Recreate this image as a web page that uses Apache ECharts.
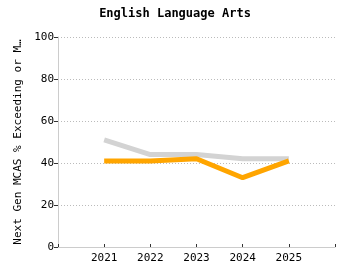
<!DOCTYPE html>
<html>
<head>
<meta charset="utf-8">
<script src="https://cdn.jsdelivr.net/npm/echarts@6/dist/echarts.min.js"></script>
<style>
  html, body { margin: 0; padding: 0; background: #fff; }
  #chart { width: 350px; height: 280px; }
</style>
</head>
<body>
<div id="chart"></div>
<script>
// data
const years = [2021, 2022, 2023, 2024, 2025];
const stateValues = [51, 44, 44, 42, 42];
const schoolValues = [41, 41, 42, 33, 41];
const yTicks = [0, 20, 40, 60, 80, 100];

const font = 'DejaVu Sans Mono';
const chart = echarts.init(document.getElementById('chart'));

const option = {
  animation: false,
  title: {
    text: 'English Language Arts',
    left: 'center',
    top: 3,
    textStyle: { fontFamily: font, fontSize: 12, fontWeight: 'bold', color: '#000' }
  },
  grid: { left: 58, right: 15, top: 37, bottom: 33 },
  xAxis: {
    type: 'value',
    min: 2020,
    max: 2026,
    interval: 1,
    axisLine: { lineStyle: { color: '#ccc' } },
    axisTick: { inside: true, length: 3, lineStyle: { color: '#333' } },
    splitLine: { show: false },
    axisLabel: {
      fontFamily: font, fontSize: 11, color: '#000', margin: 6,
      formatter: v => years.includes(v) ? String(v) : ''
    }
  },
  yAxis: {
    type: 'value',
    min: yTicks[0],
    max: yTicks[yTicks.length - 1],
    interval: 20,
    name: 'Next Gen MCAS % Exceeding or M\u2026',
    nameLocation: 'middle',
    nameGap: 34,
    nameTextStyle: { fontFamily: font, fontSize: 11, color: '#000' },
    axisLine: { show: true, lineStyle: { color: '#ccc' } },
    axisTick: { show: true, length: 4, lineStyle: { color: '#333' } },
    splitLine: { lineStyle: { color: '#bbb', type: [1, 2] } },
    axisLabel: { fontFamily: font, fontSize: 11, color: '#000', margin: 4 }
  },
  series: [
    {
      type: 'line',
      data: years.map((y, i) => [y, stateValues[i]]),
      showSymbol: false,
      lineStyle: { color: '#d3d3d3', width: 5 },
      itemStyle: { color: '#d3d3d3' }
    },
    {
      type: 'line',
      data: years.map((y, i) => [y, schoolValues[i]]),
      showSymbol: false,
      lineStyle: { color: '#ffa500', width: 5 },
      itemStyle: { color: '#ffa500' }
    }
  ]
};

chart.setOption(option);
</script>
</body>
</html>
